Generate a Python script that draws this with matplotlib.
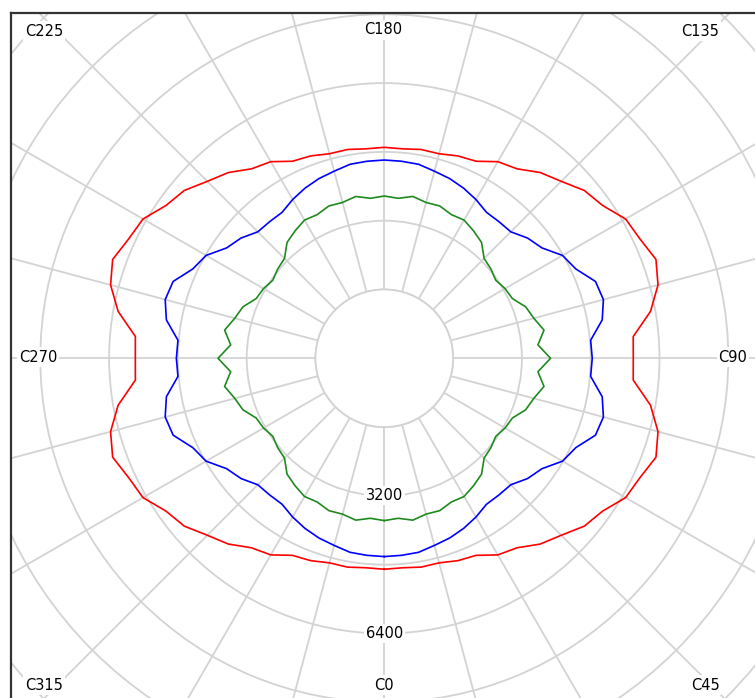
import matplotlib.pyplot as plt
import numpy as np
from matplotlib.patches import Rectangle
from matplotlib.lines import Line2D

W, H = 755, 698

# C-plane angles (deg), values in cd
c_angles = np.arange(0, 360, 5)

red_cd = [4906, 4890, 4931, 4925, 5008, 5056, 5280, 5380, 5640, 5820, 6072, 6197, 6480, 6562, 6723, 6590, 6286, 5811, 5790,
          5811, 6286, 6590, 6723, 6562, 6480, 6197, 6072, 5820, 5640, 5380, 5280, 5056, 5008, 4925, 4931, 4890, 4906,
          4890, 4931, 4925, 5008, 5056, 5280, 5380, 5640, 5820, 6072, 6197, 6480, 6562, 6723, 6590, 6286, 5811, 5790,
          5811, 6286, 6590, 6723, 6562, 6480, 6197, 6072, 5820, 5640, 5380, 5280, 5056, 5008, 4925, 4931, 4890]

blue_cd = [4611, 4600, 4582, 4505, 4447, 4365, 4263, 4144, 4148, 4160, 4350, 4476, 4785, 4915, 5226, 5275, 5146, 4817, 4836,
           4817, 5146, 5275, 5226, 4915, 4785, 4476, 4350, 4160, 4148, 4144, 4263, 4365, 4447, 4505, 4582, 4600, 4611,
           4600, 4582, 4505, 4447, 4365, 4263, 4144, 4148, 4160, 4350, 4476, 4785, 4915, 5226, 5275, 5146, 4817, 4836,
           4817, 5146, 5275, 5226, 4915, 4785, 4476, 4350, 4160, 4148, 4144, 4263, 4365, 4447, 4505, 4582, 4600]

green_cd = [3774, 3735, 3822, 3752, 3770, 3688, 3711, 3618, 3518, 3283, 3235, 3165, 3243, 3287, 3499, 3600, 3771, 3586, 3867,
            3586, 3771, 3600, 3499, 3287, 3243, 3165, 3235, 3283, 3518, 3618, 3711, 3688, 3770, 3752, 3822, 3735, 3774,
            3735, 3822, 3752, 3770, 3688, 3711, 3618, 3518, 3283, 3235, 3165, 3243, 3287, 3499, 3600, 3771, 3586, 3867,
            3586, 3771, 3600, 3499, 3287, 3243, 3165, 3235, 3283, 3518, 3618, 3711, 3688, 3770, 3752, 3822, 3735]

ring_values = [1600, 3200, 4800, 6400, 8000, 9600, 11200]
ring_labels = [3200, 6400]
plane_names = ["C0", "C45", "C90", "C135", "C180", "C225", "C270", "C315"]
# label centres in pixels (x from left, y from top)
plane_pos = [(384, 685), (705, 685), (733, 357), (700, 31),
             (383, 30), (44, 31), (38, 357), (44, 685)]

grid_col = "#d3d3d3"

fig = plt.figure(figsize=(W / 100, H / 100), dpi=100)
cx, cy = 384.3, 358.3
R = 550.4  # pixel radius of rmax
ax = fig.add_axes([(cx - R) / W, (H - cy - R) / H, 2 * R / W, 2 * R / H], projection="polar")
ax.set_theta_zero_location("S")
ax.set_theta_direction(1)
ax.set_rorigin(0)
ax.set_rlim(1600, 12800)

ax.set_thetagrids(np.arange(0, 360, 15), labels=[])
ax.set_rgrids(ring_values, labels=[])
ax.grid(True, color=grid_col, lw=1.3)
ax.tick_params(length=0)
ax.spines["inner"].set_color(grid_col)
ax.spines["inner"].set_linewidth(1.3)
ax.spines["polar"].set_visible(False)

def closed(vals):
    th = np.deg2rad(np.append(c_angles, 360))
    return th, np.append(vals, vals[0])

for vals, col in [(red_cd, "#ff0000"), (blue_cd, "#0000ff"), (green_cd, "#1e8a1e")]:
    th, r = closed(vals)
    ax.plot(th, r, color=col, lw=1.2, zorder=3)

for v in ring_labels:
    ax.text(0, v, str(v), ha="center", va="center", fontsize=10.5,
            bbox=dict(facecolor="white", edgecolor="none", pad=1.5), zorder=4)

for name, (px, py) in zip(plane_names, plane_pos):
    fig.text(px / W, 1 - py / H, name, ha="center", va="center", fontsize=10.5, zorder=6,
             bbox=dict(facecolor="white", edgecolor="none", pad=1.5))

# white margins and frame at top/left
fig.add_artist(Rectangle((0, 1 - 13 / H), 1, 13 / H, transform=fig.transFigure,
                         facecolor="white", edgecolor="none", zorder=5))
fig.add_artist(Rectangle((0, 0), 11 / W, 1, transform=fig.transFigure,
                         facecolor="white", edgecolor="none", zorder=5))
fig.add_artist(Line2D([11 / W, 11 / W], [0, 1 - 13 / H], transform=fig.transFigure, color="#333333", lw=1.6, zorder=7))
fig.add_artist(Line2D([11 / W, 1], [1 - 13 / H, 1 - 13 / H], transform=fig.transFigure, color="#333333", lw=1.6, zorder=7))

fig.savefig("out.png", dpi=100)
